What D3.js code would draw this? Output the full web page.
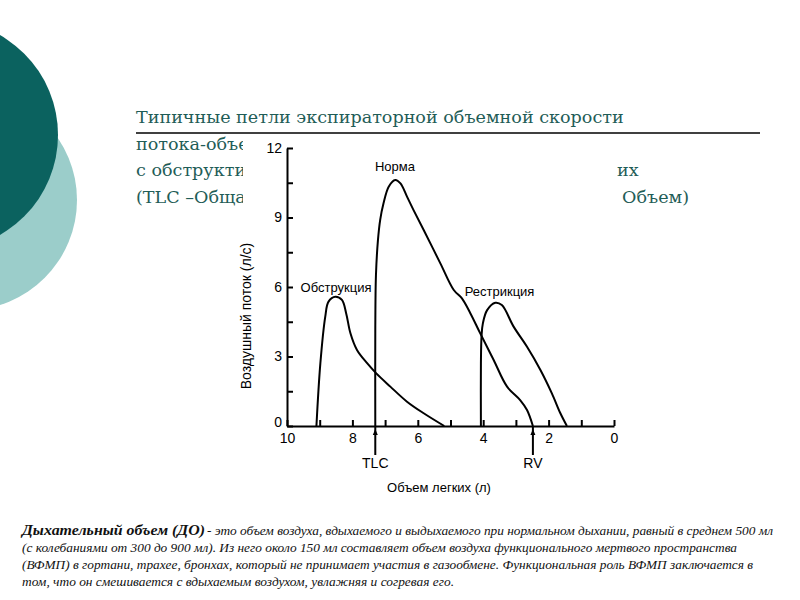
<!DOCTYPE html>
<html>
<head>
<meta charset="utf-8">
<script src="https://cdn.jsdelivr.net/npm/d3@7/dist/d3.min.js"></script>
<style>
  body { margin: 0; background: #fff; }
  svg { display: block; }
  .axis path, .axis line { stroke: #000; stroke-width: 2; }
  .axis text { font-family: "Liberation Sans", Arial, sans-serif; font-size: 14px; fill: #000; }
  .curve { fill: none; stroke: #000; stroke-width: 2; stroke-linejoin: round; }
  .lbl { font-family: "Liberation Sans", Arial, sans-serif; font-size: 13px; fill: #000; }
  .title { font-family: "DejaVu Serif", "Liberation Serif", serif; font-size: 17px; fill: #1f5d57; }
  .note { font-family: "Liberation Serif", serif; font-style: italic; font-size: 12px; fill: #111; }
</style>
</head>
<body>
<script>
"use strict";

// ---- data ----
var x_ticks = [0, 1, 2, 3, 4, 5, 6, 7, 8, 9, 10];
var y_ticks = [0, 1.5, 3, 4.5, 6, 7.5, 9, 10.5, 12];

// volume (l), flow (l/s)
var norma_vol  = [7.30, 7.30, 7.28, 7.22, 7.15, 7.05, 6.89, 6.69, 6.53, 6.33, 6.13, 5.82, 5.31, 4.90, 4.65, 4.39, 4.09, 3.68, 3.27, 2.87, 2.66, 2.48];
var norma_flow = [0, 4.1, 6.5, 8.0, 8.9, 9.6, 10.33, 10.62, 10.47, 9.9, 9.32, 8.46, 7.02, 5.87, 5.51, 4.86, 4.0, 2.85, 1.70, 1.12, 0.69, 0];

var obstr_vol  = [9.10, 8.98, 8.83, 8.73, 8.52, 8.32, 8.19, 8.06, 7.86, 7.55, 7.27, 6.84, 6.33, 5.82, 5.19];
var obstr_flow = [0, 2.7, 4.72, 5.37, 5.58, 5.44, 4.86, 4.0, 3.28, 2.71, 2.27, 1.70, 1.05, 0.55, 0];

var restr_vol  = [4.07, 4.07, 4.05, 4.01, 3.88, 3.63, 3.43, 3.07, 2.66, 2.25, 1.90, 1.64, 1.44];
var restr_flow = [0, 2.7, 3.9, 4.43, 5.0, 5.32, 5.22, 4.29, 3.42, 2.42, 1.41, 0.55, 0];

var markers = [ { "name": "TLC", "vol": 7.30 }, { "name": "RV", "vol": 2.48 } ];

var curve_labels = [
    { "text": "Норма", "vol": 6.7, "flow": 11.0 },
    { "text": "Обструкция", "vol": 8.5, "flow": 5.8 },
    { "text": "Рестрикция", "vol": 3.5, "flow": 5.6 }
];

// title: the chart picture covers its middle, so only the visible parts are kept
var title_main = "Типичные петли экспираторной объемной скорости";
var title_heads = ["потока-объем", "с обструктив", "(TLC –Общая"];
var title_tails = [ null, { "text": "их", "x": 617 }, { "text": "Объем)", "x": 622 } ];

var note_bold = "Дыхательный объем (ДО)";
var note_lines = [
    " - это объем воздуха, вдыхаемого и выдыхаемого при нормальном дыхании, равный в среднем 500 мл",
    "(с колебаниями от 300 до 900 мл). Из него около 150 мл составляет объем воздуха функционального мертвого пространства",
    "(ВФМП) в гортани, трахее, бронхах, который не принимает участия в газообмене. Функциональная роль ВФМП заключается в",
    "том, что он смешивается с вдыхаемым воздухом, увлажняя и согревая его."
];
var note_widths = [566, 715, 731, 432];

var width = 800, height = 600;
var svg = d3.select("body").append("svg")
    .attr("width", width)
    .attr("height", height);

// decorative circles on the left
svg.append("circle")
    .attr("cx", -33).attr("cy", 200).attr("r", 110)
    .attr("fill", "#9bcdca");
svg.append("circle")
    .attr("cx", -57).attr("cy", 135).attr("r", 115)
    .attr("fill", "#0b625f");

// title
var box = { "x": 243, "y": 143, "w": 373, "h": 357 };
svg.append("clipPath").attr("id", "title_clip")
    .append("rect")
    .attr("x", 0).attr("y", 0)
    .attr("width", box.x).attr("height", height);

svg.append("line")
    .attr("x1", 136).attr("x2", 760)
    .attr("y1", 133).attr("y2", 133)
    .attr("stroke", "#000").attr("stroke-width", 1.5);

var t_main = svg.append("text")
    .attr("class", "title")
    .attr("x", 136)
    .attr("y", 123)
    .text(title_main);
// scale font so the first line spans like in the picture
var fs = 17 * 488 / t_main.node().getComputedTextLength();
t_main.style("font-size", fs + "px");

var heads_g = svg.append("g").attr("clip-path", "url(#title_clip)");
title_heads.forEach(function(t, i) {
    heads_g.append("text")
        .attr("class", "title")
        .style("font-size", fs + "px")
        .attr("x", 136)
        .attr("y", 149.5 + i * 26.5)
        .text(t);
});
title_tails.forEach(function(t, i) {
    if(!t) return;
    svg.append("text")
        .attr("class", "title")
        .style("font-size", fs + "px")
        .attr("x", t.x)
        .attr("y", 149.5 + i * 26.5)
        .text(t.text);
});

// ---- chart ----
var x = d3.scaleLinear().domain([10, 0]).range([287, 614]);
var y = d3.scaleLinear().domain([0, 12]).range([426, 148]);

var g = svg.append("g");

g.append("g")
    .attr("class", "axis")
    .attr("transform", "translate(0," + y(0) + ")")
    .call(d3.axisBottom(x)
        .tickValues(x_ticks)
        .tickSize(-6)
        .tickSizeOuter(0)
        .tickPadding(7)
        .tickFormat(function(d) { return d % 2 === 0 ? d : ""; }));

var y_axis = g.append("g")
    .attr("class", "axis")
    .attr("transform", "translate(" + x(10) + ",0)")
    .call(d3.axisLeft(y)
        .tickValues(y_ticks)
        .tickSize(-6)
        .tickSizeOuter(0)
        .tickPadding(5)
        .tickFormat(function(d) { return d % 3 === 0 ? d : ""; }));
// keep the "0" clear of the "10" below it
y_axis.selectAll(".tick text")
    .filter(function(d) { return d === 0; })
    .attr("dy", "0.05em");

var smooth = d3.line()
    .curve(d3.curveCatmullRom.alpha(0.5))
    .x(function(d) { return x(d[0]); })
    .y(function(d) { return y(d[1]); });

function pairs(vol, flow) {
    return vol.map(function(v, i) { return [v, flow[i]]; });
}

[pairs(norma_vol, norma_flow), pairs(obstr_vol, obstr_flow), pairs(restr_vol, restr_flow)]
    .forEach(function(pts) {
        g.append("path")
            .attr("class", "curve")
            .attr("d", smooth(pts));
    });

// TLC / RV markers
markers.forEach(function(m) {
    var mx = x(m.vol);
    g.append("line")
        .attr("x1", mx).attr("x2", mx)
        .attr("y1", y(0)).attr("y2", y(0) + 29)
        .attr("stroke", "#000").attr("stroke-width", 2);
    g.append("path")
        .attr("d", "M" + (mx - 2.5) + "," + (y(0) + 9) + "L" + mx + "," + (y(0) + 3) + "L" + (mx + 2.5) + "," + (y(0) + 9) + "Z")
        .attr("fill", "#000");
    g.append("text")
        .attr("class", "lbl")
        .attr("x", mx)
        .attr("y", y(0) + 42)
        .attr("text-anchor", "middle")
        .style("font-size", "14px")
        .text(m.name);
});

curve_labels.forEach(function(c) {
    g.append("text")
        .attr("class", "lbl")
        .attr("x", x(c.vol))
        .attr("y", y(c.flow))
        .attr("text-anchor", "middle")
        .text(c.text);
});

g.append("text")
    .attr("class", "lbl")
    .attr("x", 439)
    .attr("y", 492)
    .attr("text-anchor", "middle")
    .text("Объем легких (л)");

g.append("text")
    .attr("class", "lbl")
    .attr("transform", "translate(251,316) rotate(-90)")
    .attr("text-anchor", "middle")
    .style("font-size", "14px")
    .text("Воздушный поток (л/с)");

// ---- note under the chart ----
svg.append("text")
    .attr("class", "note")
    .attr("x", 22).attr("y", 535)
    .attr("textLength", 183)
    .attr("lengthAdjust", "spacingAndGlyphs")
    .style("font-weight", "bold")
    .style("font-size", "14px")
    .text(note_bold);
note_lines.forEach(function(t, i) {
    svg.append("text")
        .attr("class", "note")
        .attr("x", i === 0 ? 207 : 22)
        .attr("y", 535 + i * 17)
        .attr("textLength", note_widths[i])
        .attr("lengthAdjust", "spacingAndGlyphs")
        .text(t);
});
</script>
</body>
</html>
